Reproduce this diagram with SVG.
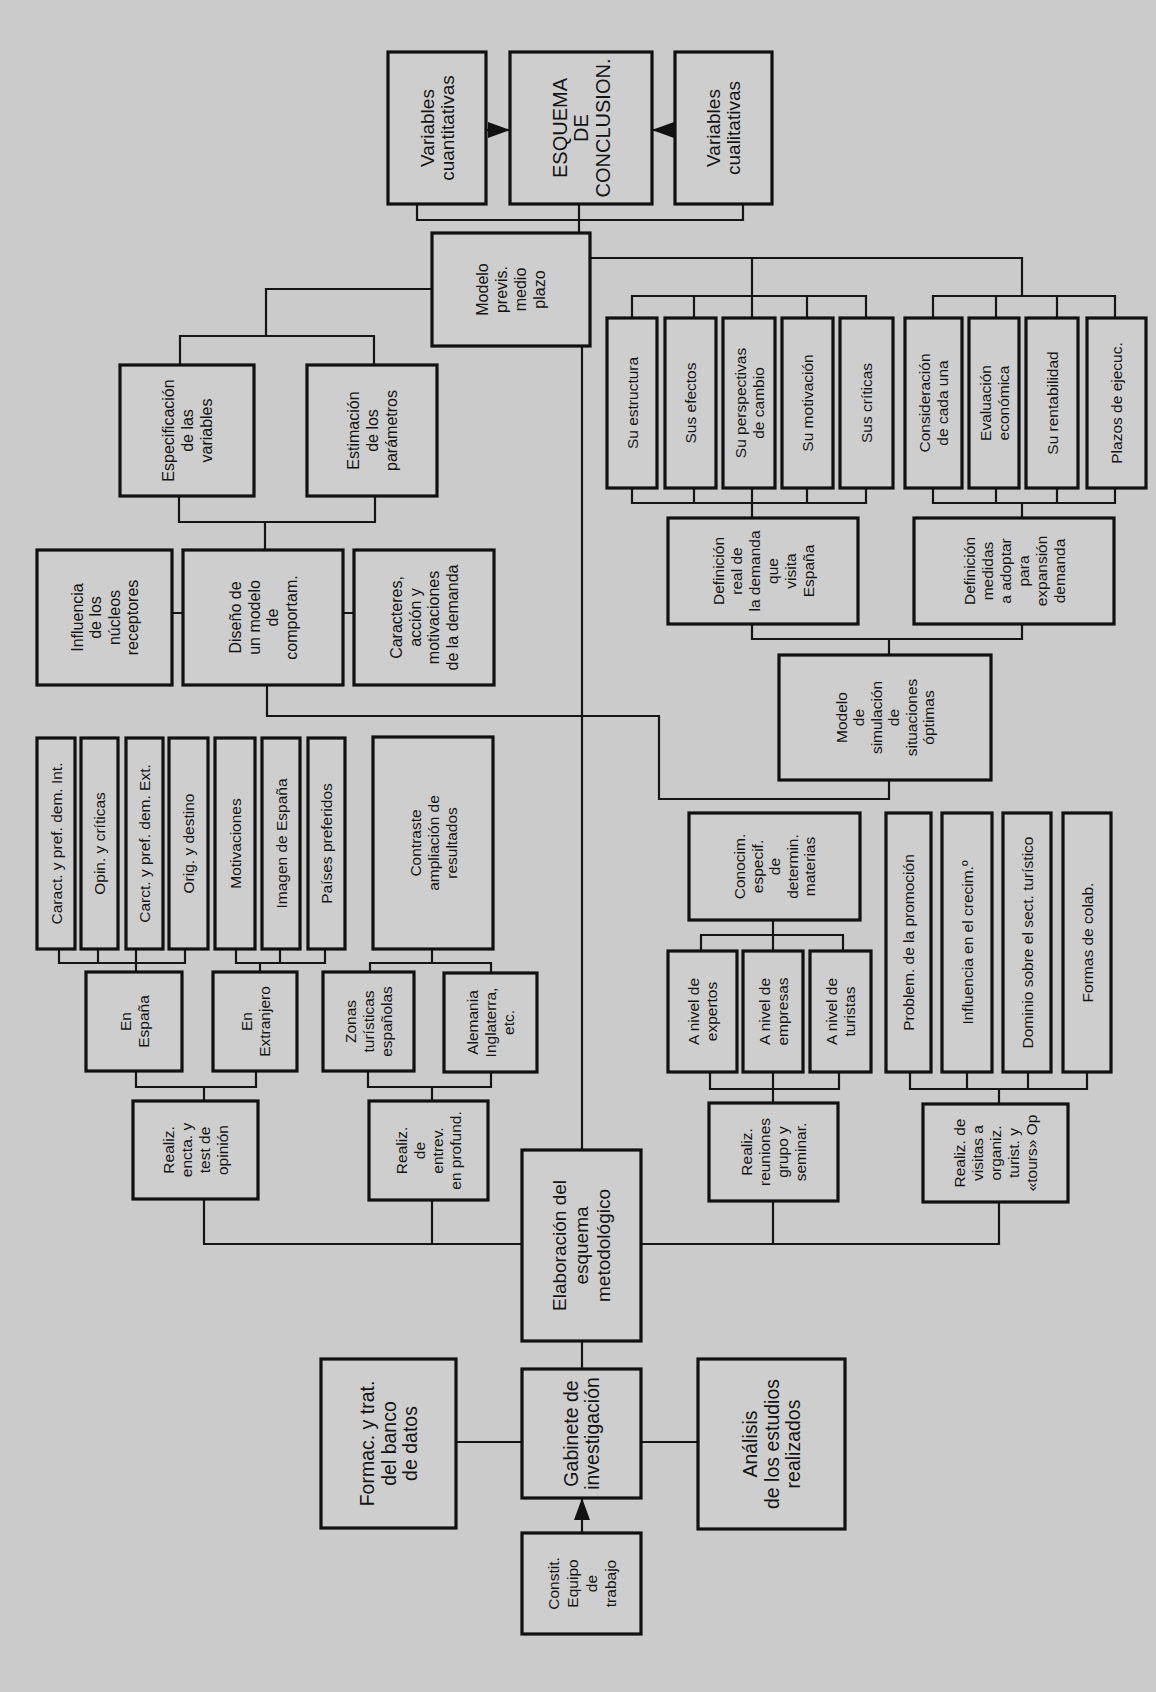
<svg xmlns="http://www.w3.org/2000/svg" width="1156" height="1692" viewBox="0 0 1156 1692">
<style>
.b{fill:#cecece;stroke:#111;stroke-width:3.2}
.c{fill:none;stroke:#161616;stroke-width:2.2}
text{font-family:"Liberation Sans",Arial,Helvetica,sans-serif;font-size:15.5px;fill:#141414;text-anchor:middle}
.m{font-size:16px}
.L{font-size:19px}
.X{font-size:20px}
.Y{font-size:19.5px}
</style>
<defs>
<marker id="ah" viewBox="0 0 22 16" refX="22" refY="8" markerWidth="22" markerHeight="16" markerUnits="userSpaceOnUse" orient="auto">
<path d="M0,0 L22,8 L0,16 z" fill="#111"/>
</marker>
</defs>
<rect x="0" y="0" width="1156" height="1692" fill="#cbcbcb"/>

<g id="connectors">
<path class="c" d="M486,130 H510" marker-end="url(#ah)"/>
<path class="c" d="M675,130 H652" marker-end="url(#ah)"/>
<path class="c" d="M417,204 V220 H743 V204 M579,204 V233"/>
<path class="c" d="M432,289 H266 V336 M180,365 V336 H374 V365"/>
<path class="c" d="M590,258 H1022 V296 M752,258 V318"/>
<path class="c" d="M632,318 V296 H866 V318 M694,296 V318 M807,296 V318"/>
<path class="c" d="M933,318 V296 H1115 V318 M996,296 V318 M1057,296 V318"/>
<path class="c" d="M632,488 V503 H866 V488 M694,488 V503 M752,488 V518 M807,488 V503"/>
<path class="c" d="M933,488 V503 H1115 V488 M996,488 V503 M1057,488 V503 M1022,503 V518"/>
<path class="c" d="M752,624 V639 H1022 V624 M889,639 V655"/>
<path class="c" d="M889,780 V799 H659 V716 H267 V685"/>
<path class="c" d="M582,346 V1150"/>
<path class="c" d="M179,496 V522 H375 V496 M265,522 V550"/>
<path class="c" d="M172,613 H183 M343,613 H354"/>
<path class="c" d="M59,949 V963 H185 V949 M98,949 V963 M136,949 V972"/>
<path class="c" d="M236,949 V963 H325 V949 M280,949 V963 M260,963 V972"/>
<path class="c" d="M432,949 V963 M370,972 V963 H491 V973"/>
<path class="c" d="M136,1071 V1087 H256 V1071 M204,1087 V1101"/>
<path class="c" d="M368,1071 V1087 H491 V1072 M432,1087 V1101"/>
<path class="c" d="M204,1199 V1244 H522 M432,1200 V1244"/>
<path class="c" d="M641,1244 H999 V1202 M773,1201 V1244"/>
<path class="c" d="M773,920 V951 M701,951 V935 H843 V951"/>
<path class="c" d="M710,1072 V1089 H839 V1072 M773,1072 V1103"/>
<path class="c" d="M910,1072 V1089 H1087 V1072 M967,1072 V1089 M1028,1072 V1089 M999,1089 V1104"/>
<path class="c" d="M582,1341 V1369 M456,1442 H522 M641,1442 H698"/>
<path class="c" d="M582,1533 V1498" marker-end="url(#ah)"/>
</g>

<g id="vcuant"><rect class="b" x="388" y="52" width="98" height="152"/>
<text class="L" transform="translate(437,128) rotate(-90)"><tspan x="0" y="-3.2">Variables</tspan><tspan x="0" dy="20">cuantitativas</tspan></text></g>
<g id="esquema"><rect class="b" x="510" y="52" width="142" height="152"/>
<text class="X" transform="translate(581,128) rotate(-90)"><tspan x="0" y="-14.3">ESQUEMA</tspan><tspan x="0" dy="21.5">DE</tspan><tspan x="0" dy="21.5">CONCLUSION.</tspan></text></g>
<g id="vcual"><rect class="b" x="675" y="52" width="97" height="152"/>
<text class="L" transform="translate(723.5,128) rotate(-90)"><tspan x="0" y="-3.2">Variables</tspan><tspan x="0" dy="20">cualitativas</tspan></text></g>

<g id="modelo"><rect class="b" x="432" y="233" width="158" height="113"/>
<text class="m" transform="translate(511,289.5) rotate(-90)"><tspan x="0" y="-22.7">Modelo</tspan><tspan x="0" dy="19">previs.</tspan><tspan x="0" dy="19">medio</tspan><tspan x="0" dy="19">plazo</tspan></text></g>
<g id="especif"><rect class="b" x="120" y="365" width="134" height="131"/>
<text class="m" transform="translate(187,430.5) rotate(-90)"><tspan x="0" y="-13.2">Especificación</tspan><tspan x="0" dy="19">de las</tspan><tspan x="0" dy="19">variables</tspan></text></g>
<g id="estim"><rect class="b" x="307" y="365" width="130" height="131"/>
<text class="m" transform="translate(372,430.5) rotate(-90)"><tspan x="0" y="-13.2">Estimación</tspan><tspan x="0" dy="19">de los</tspan><tspan x="0" dy="19">parámetros</tspan></text></g>

<g id="influencia"><rect class="b" x="37" y="550" width="135" height="135"/>
<text class="m" transform="translate(104.5,617.5) rotate(-90)"><tspan x="0" y="-22">Influencia</tspan><tspan x="0" dy="18.5">de los</tspan><tspan x="0" dy="18.5">núcleos</tspan><tspan x="0" dy="18.5">receptores</tspan></text></g>
<g id="diseno"><rect class="b" x="183" y="550" width="160" height="135"/>
<text class="m" transform="translate(263,617.5) rotate(-90)"><tspan x="0" y="-22">Diseño de</tspan><tspan x="0" dy="18.5">un modelo</tspan><tspan x="0" dy="18.5">de</tspan><tspan x="0" dy="18.5">comportam.</tspan></text></g>
<g id="caracteres"><rect class="b" x="354" y="550" width="140" height="135"/>
<text class="m" transform="translate(424,617.5) rotate(-90)"><tspan x="0" y="-22">Caracteres,</tspan><tspan x="0" dy="18.5">acción y</tspan><tspan x="0" dy="18.5">motivaciones</tspan><tspan x="0" dy="18.5">de la demanda</tspan></text></g>

<g id="caract-int"><rect class="b" x="37" y="738" width="38" height="211"/>
<text transform="translate(56,843.5) rotate(-90)"><tspan x="0" y="5.6">Caract. y pref. dem. Int.</tspan></text></g>
<g id="opin"><rect class="b" x="81" y="738" width="37" height="211"/>
<text transform="translate(99.5,843.5) rotate(-90)"><tspan x="0" y="5.6">Opin. y críticas</tspan></text></g>
<g id="caract-ext"><rect class="b" x="126" y="738" width="37" height="211"/>
<text transform="translate(144.5,843.5) rotate(-90)"><tspan x="0" y="5.6">Carct. y pref. dem. Ext.</tspan></text></g>
<g id="orig"><rect class="b" x="169" y="738" width="39" height="211"/>
<text transform="translate(188.5,843.5) rotate(-90)"><tspan x="0" y="5.6">Orig. y destino</tspan></text></g>
<g id="motiv"><rect class="b" x="215" y="738" width="40" height="211"/>
<text transform="translate(235,843.5) rotate(-90)"><tspan x="0" y="5.6">Motivaciones</tspan></text></g>
<g id="imagen"><rect class="b" x="262" y="738" width="38" height="211"/>
<text transform="translate(281,843.5) rotate(-90)"><tspan x="0" y="5.6">Imagen de España</tspan></text></g>
<g id="paises"><rect class="b" x="308" y="738" width="37" height="211"/>
<text transform="translate(326.5,843.5) rotate(-90)"><tspan x="0" y="5.6">Países preferidos</tspan></text></g>
<g id="contraste"><rect class="b" x="373" y="737" width="120" height="212"/>
<text transform="translate(433,843) rotate(-90)"><tspan x="0" y="-12.4">Contraste</tspan><tspan x="0" dy="18">ampliación de</tspan><tspan x="0" dy="18">resultados</tspan></text></g>

<g id="enespana"><rect class="b" x="86" y="972" width="96" height="99"/>
<text transform="translate(134,1021.5) rotate(-90)"><tspan x="0" y="-3.4">En</tspan><tspan x="0" dy="18">España</tspan></text></g>
<g id="enextr"><rect class="b" x="213" y="972" width="84" height="99"/>
<text transform="translate(255,1021.5) rotate(-90)"><tspan x="0" y="-3.4">En</tspan><tspan x="0" dy="18">Extranjero</tspan></text></g>
<g id="zonas"><rect class="b" x="323" y="972" width="91" height="99"/>
<text transform="translate(368.5,1021.5) rotate(-90)"><tspan x="0" y="-12.4">Zonas</tspan><tspan x="0" dy="18">turísticas</tspan><tspan x="0" dy="18">españolas</tspan></text></g>
<g id="alemania"><rect class="b" x="444" y="973" width="93" height="99"/>
<text transform="translate(490.5,1022.5) rotate(-90)"><tspan x="0" y="-12.4">Alemania</tspan><tspan x="0" dy="18">Inglaterra,</tspan><tspan x="0" dy="18">etc.</tspan></text></g>

<g id="realiz-encta"><rect class="b" x="133" y="1101" width="125" height="98"/>
<text transform="translate(195.5,1150) rotate(-90)"><tspan x="0" y="-21.4">Realiz.</tspan><tspan x="0" dy="18">encta. y</tspan><tspan x="0" dy="18">test de</tspan><tspan x="0" dy="18">opinión</tspan></text></g>
<g id="realiz-entrev"><rect class="b" x="369" y="1101" width="119" height="99"/>
<text transform="translate(428.5,1150.5) rotate(-90)"><tspan x="0" y="-21.4">Realiz.</tspan><tspan x="0" dy="18">de</tspan><tspan x="0" dy="18">entrev.</tspan><tspan x="0" dy="18">en profund.</tspan></text></g>

<g id="elaboracion"><rect class="b" x="522" y="1150" width="119" height="191"/>
<text class="L" transform="translate(581.5,1245.5) rotate(-90)"><tspan x="0" y="-15.2">Elaboración del</tspan><tspan x="0" dy="22">esquema</tspan><tspan x="0" dy="22">metodológico</tspan></text></g>
<g id="gabinete"><rect class="b" x="522" y="1369" width="119" height="129"/>
<text class="Y" transform="translate(581.5,1433.5) rotate(-90)"><tspan x="0" y="-3.75">Gabinete de</tspan><tspan x="0" dy="21.5">investigación</tspan></text></g>
<g id="formac"><rect class="b" x="321" y="1359" width="135" height="169"/>
<text class="Y" transform="translate(388.5,1443.5) rotate(-90)"><tspan x="0" y="-14.5">Formac. y trat.</tspan><tspan x="0" dy="21.5">del banco</tspan><tspan x="0" dy="21.5">de datos</tspan></text></g>
<g id="analisis"><rect class="b" x="698" y="1359" width="147" height="170"/>
<text class="Y" transform="translate(771.5,1444) rotate(-90)"><tspan x="0" y="-14.5">Análisis</tspan><tspan x="0" dy="21.5">de los estudios</tspan><tspan x="0" dy="21.5">realizados</tspan></text></g>
<g id="constit"><rect class="b" x="522" y="1533" width="119" height="101"/>
<text transform="translate(581.5,1583.5) rotate(-90)"><tspan x="0" y="-22.9">Constit.</tspan><tspan x="0" dy="19">Equipo</tspan><tspan x="0" dy="19">de</tspan><tspan x="0" dy="19">trabajo</tspan></text></g>

<g id="su-estructura"><rect class="b" x="607" y="318" width="50" height="170"/>
<text transform="translate(632,403) rotate(-90)"><tspan x="0" y="5.6">Su estructura</tspan></text></g>
<g id="sus-efectos"><rect class="b" x="665" y="318" width="51" height="170"/>
<text transform="translate(690.5,403) rotate(-90)"><tspan x="0" y="5.6">Sus efectos</tspan></text></g>
<g id="su-perspectivas"><rect class="b" x="723" y="318" width="52" height="170"/>
<text transform="translate(749,403) rotate(-90)"><tspan x="0" y="-3.4">Su perspectivas</tspan><tspan x="0" dy="18">de cambio</tspan></text></g>
<g id="su-motivacion"><rect class="b" x="782" y="318" width="51" height="170"/>
<text transform="translate(807.5,403) rotate(-90)"><tspan x="0" y="5.6">Su motivación</tspan></text></g>
<g id="sus-criticas"><rect class="b" x="840" y="318" width="53" height="170"/>
<text transform="translate(866.5,403) rotate(-90)"><tspan x="0" y="5.6">Sus críticas</tspan></text></g>
<g id="consideracion"><rect class="b" x="905" y="318" width="57" height="170"/>
<text transform="translate(933.5,403) rotate(-90)"><tspan x="0" y="-3.4">Consideración</tspan><tspan x="0" dy="18">de cada una</tspan></text></g>
<g id="evaluacion"><rect class="b" x="969" y="318" width="50" height="170"/>
<text transform="translate(994,403) rotate(-90)"><tspan x="0" y="-3.4">Evaluación</tspan><tspan x="0" dy="18">económica</tspan></text></g>
<g id="rentabilidad"><rect class="b" x="1026" y="318" width="52" height="170"/>
<text transform="translate(1052,403) rotate(-90)"><tspan x="0" y="5.6">Su rentabilidad</tspan></text></g>
<g id="plazos"><rect class="b" x="1087" y="318" width="59" height="170"/>
<text transform="translate(1116.5,403) rotate(-90)"><tspan x="0" y="5.6">Plazos de ejecuc.</tspan></text></g>

<g id="defreal"><rect class="b" x="668" y="518" width="190" height="106"/>
<text transform="translate(763,571) rotate(-90)"><tspan x="0" y="-39.4">Definición</tspan><tspan x="0" dy="18">real de</tspan><tspan x="0" dy="18">la demanda</tspan><tspan x="0" dy="18">que</tspan><tspan x="0" dy="18">visita</tspan><tspan x="0" dy="18">España</tspan></text></g>
<g id="defmed"><rect class="b" x="914" y="518" width="200" height="106"/>
<text transform="translate(1014,571) rotate(-90)"><tspan x="0" y="-39.4">Definición</tspan><tspan x="0" dy="18">medidas</tspan><tspan x="0" dy="18">a adoptar</tspan><tspan x="0" dy="18">para</tspan><tspan x="0" dy="18">expansión</tspan><tspan x="0" dy="18">demanda</tspan></text></g>
<g id="modsim"><rect class="b" x="779" y="655" width="212" height="125"/>
<text transform="translate(885,717.5) rotate(-90)"><tspan x="0" y="-38.2">Modelo</tspan><tspan x="0" dy="17.5">de</tspan><tspan x="0" dy="17.5">simulación</tspan><tspan x="0" dy="17.5">de</tspan><tspan x="0" dy="17.5">situaciones</tspan><tspan x="0" dy="17.5">óptimas</tspan></text></g>

<g id="conocim"><rect class="b" x="689" y="813" width="171" height="107"/>
<text transform="translate(774.5,866.5) rotate(-90)"><tspan x="0" y="-29.4">Conocim.</tspan><tspan x="0" dy="17.5">especif.</tspan><tspan x="0" dy="17.5">de</tspan><tspan x="0" dy="17.5">determin.</tspan><tspan x="0" dy="17.5">materias</tspan></text></g>
<g id="nivel-expertos"><rect class="b" x="668" y="951" width="69" height="121"/>
<text transform="translate(702.5,1011.5) rotate(-90)"><tspan x="0" y="-3.4">A nivel de</tspan><tspan x="0" dy="18">expertos</tspan></text></g>
<g id="nivel-empresas"><rect class="b" x="743" y="951" width="60" height="121"/>
<text transform="translate(773,1011.5) rotate(-90)"><tspan x="0" y="-3.4">A nivel de</tspan><tspan x="0" dy="18">empresas</tspan></text></g>
<g id="nivel-turistas"><rect class="b" x="810" y="951" width="61" height="121"/>
<text transform="translate(840.5,1011.5) rotate(-90)"><tspan x="0" y="-3.4">A nivel de</tspan><tspan x="0" dy="18">turistas</tspan></text></g>
<g id="problem"><rect class="b" x="886" y="813" width="45" height="259"/>
<text transform="translate(908.5,942.5) rotate(-90)"><tspan x="0" y="5.6">Problem. de la promoción</tspan></text></g>
<g id="influencia-crecim"><rect class="b" x="942" y="813" width="50" height="259"/>
<text transform="translate(967,942.5) rotate(-90)"><tspan x="0" y="5.6">Influencia en el crecim.º</tspan></text></g>
<g id="dominio"><rect class="b" x="1003" y="813" width="48" height="259"/>
<text transform="translate(1027,942.5) rotate(-90)"><tspan x="0" y="5.6">Dominio sobre el sect. turístico</tspan></text></g>
<g id="formas"><rect class="b" x="1063" y="813" width="48" height="259"/>
<text transform="translate(1087,942.5) rotate(-90)"><tspan x="0" y="5.6">Formas de colab.</tspan></text></g>
<g id="realiz-reun"><rect class="b" x="709" y="1103" width="129" height="98"/>
<text transform="translate(773.5,1152) rotate(-90)"><tspan x="0" y="-21.4">Realiz.</tspan><tspan x="0" dy="18">reuniones</tspan><tspan x="0" dy="18">grupo y</tspan><tspan x="0" dy="18">seminar.</tspan></text></g>
<g id="realiz-vis"><rect class="b" x="923" y="1104" width="145" height="98"/>
<text transform="translate(995.5,1153) rotate(-90)"><tspan x="0" y="-30.4">Realiz. de</tspan><tspan x="0" dy="18">visitas a</tspan><tspan x="0" dy="18">organiz.</tspan><tspan x="0" dy="18">turist. y</tspan><tspan x="0" dy="18">«tours» Op</tspan></text></g>
</svg>
